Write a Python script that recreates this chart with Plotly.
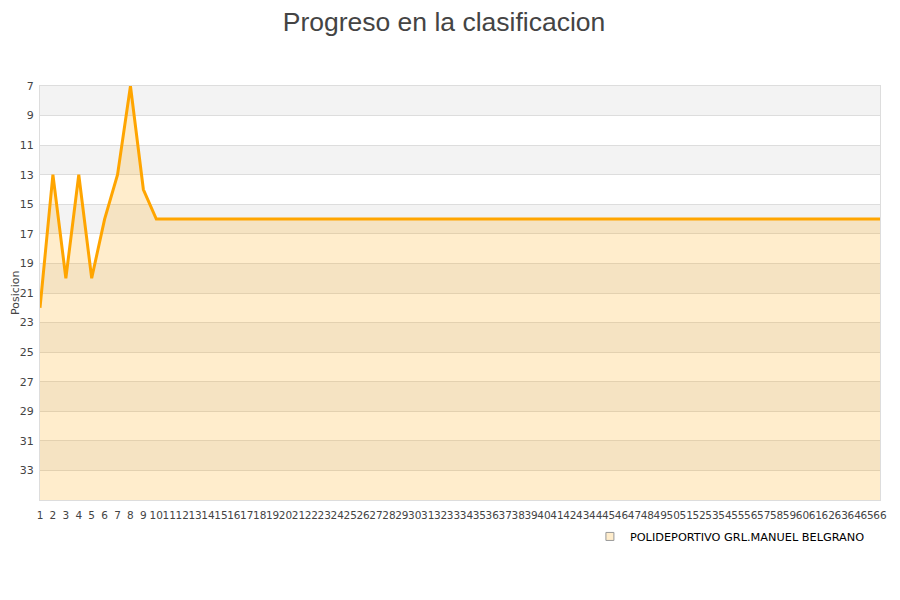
import plotly.graph_objects as go

# Jornadas y posicion del equipo
jornadas = list(range(1, 67))
posiciones = [22, 13, 20, 13, 20, 16, 13, 7, 14, 16] + [16] * 56
equipo = "POLIDEPORTIVO GRL.MANUEL BELGRANO"
y_ticks = list(range(7, 35, 2))
y_min, y_max = 7, 35

fig = go.Figure()

# baseline at the bottom so the area fills downwards on the reversed axis
fig.add_trace(go.Scatter(
    x=jornadas, y=[y_max] * len(jornadas), mode="lines",
    line=dict(width=0), showlegend=False, hoverinfo="skip",
))
fig.add_trace(go.Scatter(
    x=jornadas, y=posiciones, mode="lines", name=equipo,
    line=dict(color="#ffa500", width=3), showlegend=False,
    fill="tonexty", fillcolor="rgba(255,165,0,0.2)",
))
# legend entry as a small square
fig.add_trace(go.Scatter(
    x=[None], y=[None], mode="markers", name=equipo,
    marker=dict(symbol="square", size=8, color="#ffedcc",
                line=dict(color="#999999", width=1)),
))

# alternating grey bands
shapes = []
for i, t in enumerate(y_ticks):
    if i % 2 == 0:
        shapes.append(dict(
            type="rect", xref="paper", yref="y", x0=0, x1=1, y0=t, y1=t + 2,
            fillcolor="#f3f3f3", line=dict(width=0), layer="below",
        ))

fig.update_layout(
    width=900, height=600,
    title=dict(text="Progreso en la clasificacion", x=436 / 900, xanchor="center",
               y=1 - 14 / 600, yanchor="middle",
               font=dict(family="Liberation Sans, Arial", size=26.5, color="#444444")),
    font=dict(family="DejaVu Sans", size=11, color="#444444"),
    plot_bgcolor="white", paper_bgcolor="white",
    margin=dict(l=32, r=28, t=78, b=108),
    shapes=shapes,
    showlegend=True,
    legend=dict(orientation="h", x=0.988, xanchor="right", y=-0.053, yanchor="top",
                font=dict(size=11.3, color="#000000")),
    xaxis=dict(
        range=[1, 66], tickmode="array", tickvals=jornadas,
        ticktext=[str(j) for j in jornadas], tickangle=0, automargin=False,
        ticks="outside", ticklen=5, tickcolor="rgba(0,0,0,0)",
        showgrid=False, zeroline=False, showline=True, linecolor="#dddddd",
        mirror=True, tickfont=dict(size=10.5),
    ),
    yaxis=dict(
        range=[y_max, y_min], tickmode="array", tickvals=y_ticks,
        ticks="outside", ticklen=3, tickcolor="rgba(0,0,0,0)",
        showgrid=True, gridcolor="#dddddd", zeroline=False, automargin=False,
        showline=True, linecolor="#dddddd", mirror=True,
        tickfont=dict(size=11),
    ),
    annotations=[dict(
        text="Posicion", xref="paper", yref="paper", x=0, y=0.5,
        xshift=-25, xanchor="center", yanchor="middle", textangle=-90,
        showarrow=False, font=dict(size=11, color="#444444"),
    )],
)

fig.write_html("out.html")
